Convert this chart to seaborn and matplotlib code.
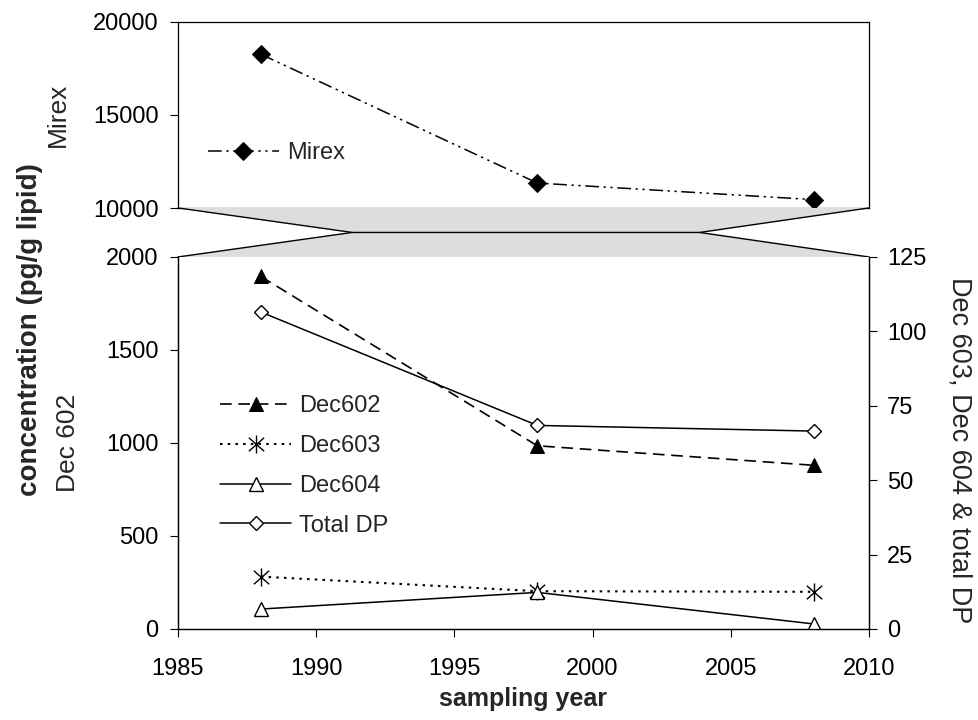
import matplotlib
matplotlib.use("Agg")
import matplotlib.pyplot as plt
from matplotlib.path import Path
import seaborn as sns

# data
years = [1988, 1998, 2008]
mirex = [18250, 11340, 10450]
dec602 = [1895, 985, 880]
dec603 = [17.6, 12.7, 12.5]
dec604 = [6.7, 12.3, 1.7]
total_dp = [106.5, 68.4, 66.5]

x_ticks = [1985, 1990, 1995, 2000, 2005, 2010]
mirex_ticks = [10000, 15000, 20000]
dec602_ticks = [0, 500, 1000, 1500, 2000]
right_ticks = [0, 25, 50, 75, 100, 125]

sns.set_style("ticks")
plt.rcParams['font.family'] = ['Liberation Sans', 'DejaVu Sans']
plt.rcParams.update({
    "xtick.direction": "out", "ytick.direction": "out",
    "xtick.major.size": 6, "ytick.major.size": 6,
    "xtick.major.width": 0.8, "ytick.major.width": 0.8,
    "xtick.labelsize": 17, "ytick.labelsize": 17,
    "xtick.color": "black", "ytick.color": "black",
    "axes.edgecolor": "black", "axes.linewidth": 0.9,
})

# asterisk marker: vertical bar plus an X
asterisk = Path([(0, -1), (0, 1), (-0.85, -0.75), (0.85, 0.75), (-0.85, 0.75), (0.85, -0.75)],
                [Path.MOVETO, Path.LINETO] * 3)

fig = plt.figure(figsize=(9.79, 7.2), dpi=100)
ax_top = fig.add_axes([0.1818, 0.7111, 0.7058, 0.2588])
ax_mid = fig.add_axes([0.1818, 0.6431, 0.7058, 0.0681])
ax = fig.add_axes([0.1818, 0.1264, 0.7058, 0.5167])
ax2 = ax.twinx()

# --- top panel: Mirex ---
sns.lineplot(x=years, y=mirex, ax=ax_top, color="black", lw=1.1,
             linestyle=(0, (9, 3, 1.5, 3, 1.5, 3)), marker="D", markersize=9,
             markerfacecolor="black", markeredgecolor="black", label="Mirex")
ax_top.set_xlim(1985, 2010)
ax_top.set_ylim(10000, 20000)
ax_top.set_yticks(mirex_ticks)
ax_top.tick_params(bottom=False, labelbottom=False)
ax_top.tick_params(axis="y", pad=8)
ax_top.set_ylabel("Mirex", fontsize=19)
ax_top.yaxis.set_label_coords(-0.156, 0.5)
ax_top.legend(loc="center left", bbox_to_anchor=(0.043, 0.295), frameon=False,
              fontsize=17, handlelength=3, handletextpad=0.35, borderpad=0,
              borderaxespad=0)

# --- gray break band ---
ax_mid.fill([0, 1, 0.755, 0.252], [1, 1, 0.5, 0.5], color="#dddddd", lw=0)
ax_mid.fill([0.252, 0.755, 1, 0], [0.5, 0.5, 0, 0], color="#dddddd", lw=0)
ax_mid.plot([0, 0.252, 0.755, 1], [1, 0.5, 0.5, 1], color="black", lw=1, clip_on=False)
ax_mid.plot([0, 0.252], [0, 0.5], color="black", lw=1, clip_on=False)
ax_mid.plot([0.755, 1], [0.5, 0], color="black", lw=1, clip_on=False)
ax_mid.set_xlim(0, 1)
ax_mid.set_ylim(0, 1)
ax_mid.axis("off")

# --- bottom panel ---
sns.lineplot(x=years, y=dec602, ax=ax, color="black", lw=1.2,
             linestyle=(0, (7, 4)), marker="^", markersize=10,
             markerfacecolor="black", markeredgecolor="black", label="Dec602")
sns.lineplot(x=years, y=dec603, ax=ax2, color="black", lw=1.5,
             linestyle=(0, (1.2, 2.5)), marker=asterisk, markersize=13,
             markerfacecolor="none", markeredgecolor="black", markeredgewidth=1,
             label="Dec603")
sns.lineplot(x=years, y=dec604, ax=ax2, color="black", lw=1.1, linestyle="-",
             marker="^", markersize=10, markerfacecolor="white",
             markeredgecolor="black", markeredgewidth=1, label="Dec604")
sns.lineplot(x=years, y=total_dp, ax=ax2, color="black", lw=1.1, linestyle="-",
             marker="D", markersize=7, markerfacecolor="white",
             markeredgecolor="black", markeredgewidth=1, label="Total DP")

ax.set_xlim(1985, 2010)
ax.set_ylim(0, 2000)
ax2.set_ylim(0, 125)
ax.set_xticks(x_ticks)
ax.set_yticks(dec602_ticks)
ax2.set_yticks(right_ticks)
ax.tick_params(axis="x", pad=15)
ax.tick_params(axis="y", pad=8)
ax2.tick_params(axis="y", pad=7)
for a in (ax, ax2):
    a.spines["top"].set_visible(False)
ax2.spines["right"].set_visible(True)
ax.set_ylabel("Dec 602", fontsize=19)
ax.yaxis.set_label_coords(-0.142, 0.5)
ax2.set_ylabel("")
ax.set_xlabel("sampling year", fontsize=18, fontweight="bold")
ax.xaxis.set_label_coords(0.5, -0.155)

h1, l1 = ax.get_legend_handles_labels()
h2, l2 = ax2.get_legend_handles_labels()
if ax.get_legend() is not None:
    ax.get_legend().remove()
ax2.legend(h1 + h2, l1 + l2, loc="center left", bbox_to_anchor=(0.061, 0.438),
           frameon=False, fontsize=17, handlelength=3, handletextpad=0.35,
           labelspacing=0.75, borderpad=0, borderaxespad=0)

fig.text(30 / 979, 1 - 330 / 720, "concentration (pg/g lipid)", rotation=90,
         ha="center", va="center", fontsize=20, fontweight="bold")
fig.text(960 / 979, 1 - 450 / 720, "Dec 603, Dec 604 & total DP", rotation=270,
         ha="center", va="center", fontsize=19.5)

fig.savefig("out.png", dpi=100)
